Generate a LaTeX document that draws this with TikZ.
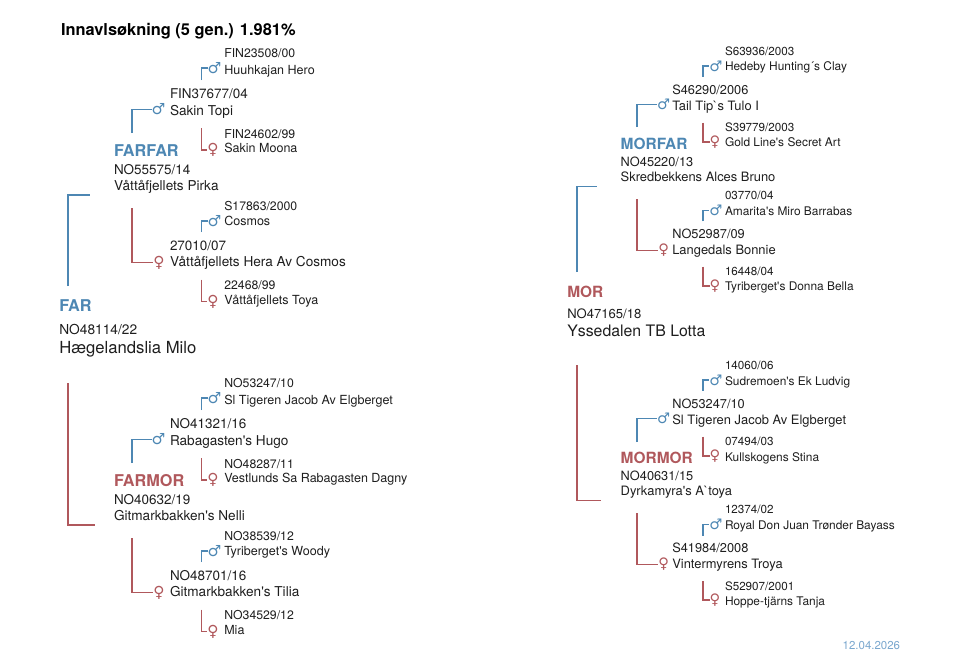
\documentclass[tikz,border=0pt]{standalone}
\usepackage{fontspec}
\newfontfamily\heros{TeX Gyre Heros}
\newfontfamily\dejavu{DejaVu Sans}

\begin{document}
\begin{tikzpicture}[x=0.75pt,y=0.75pt,yscale=-1,xscale=1,
	every node/.style={inner sep=0pt,outer sep=0pt,anchor=base west,color={rgb, 255:red, 30; green, 30; blue, 30 }},
	headline/.style={font=\heros\bfseries\fontsize{12.3}{14}\selectfont,color=black},
	malerole/.style={font=\heros\bfseries\fontsize{12.2}{14}\selectfont,color={rgb, 255:red, 77; green, 135; blue, 179 }},
	femalerole/.style={font=\heros\bfseries\fontsize{12.2}{14}\selectfont,color={rgb, 255:red, 176; green, 88; blue, 92 }},
	id1/.style={font=\heros\fontsize{10.3}{12}\selectfont},
	name1/.style={font=\heros\fontsize{12.5}{14}\selectfont},
	id2/.style={font=\heros\fontsize{10.1}{12}\selectfont},
	name2/.style={font=\heros\fontsize{10.2}{12}\selectfont},
	id3/.style={font=\heros\fontsize{9.2}{11}\selectfont},
	name3/.style={font=\heros\fontsize{9.4}{11}\selectfont},
	malesym/.style={anchor=center,font=\dejavu\fontsize{11.5}{12}\selectfont,color={rgb, 255:red, 77; green, 135; blue, 179 }},
	femalesym/.style={anchor=center,font=\dejavu\fontsize{11.5}{12}\selectfont,color={rgb, 255:red, 176; green, 88; blue, 92 }},
	blueline/.style={line width=1pt,color={rgb, 255:red, 77; green, 135; blue, 179 }},
	redline/.style={line width=1pt,color={rgb, 255:red, 176; green, 88; blue, 92 }},
	datestamp/.style={font=\heros\fontsize{8.6}{10}\selectfont,color={rgb, 255:red, 122; green, 167; blue, 206 }}]
	\useasboundingbox (0,0) rectangle (960,665);
	
	\node [headline] (title) at (61,35) {Innavlsøkning (5 gen.) 1.981\%};
	
	% far side
	\node [malerole] (far) at (59.3,311.7) {FAR};
	\node [id1] (farid) at (59.3,334) {NO48114/22};
	\node [name1] (farname) at (59.3,353) {Hægelandslia Milo};
	
	\node [malerole] (farfar) at (114,156.7) {FARFAR};
	\node [id2] (farfarid) at (114,174) {NO55575/14};
	\node [name2] (farfarname) at (114,190) {Våttåfjellets Pirka};
	
	\node [id2] (ff1id) at (170,98) {FIN37677/04};
	\node [name2] (ff1) at (170,115) {Sakin Topi};
	\node [malesym] (ff1sym) at (158.5,109.5) {♂};
	\node [id3] (ff11id) at (224.3,57.7) {FIN23508/00};
	\node [name3] (ff11) at (224.3,74) {Huuhkajan Hero};
	\node [malesym] (ff11sym) at (214.5,68) {♂};
	\node [id3] (ff12id) at (224.3,138) {FIN24602/99};
	\node [name3] (ff12) at (224.3,152.7) {Sakin Moona};
	\node [femalesym] (ff12sym) at (213,150) {♀};
	
	\node [id2] (ff2id) at (170,250) {27010/07};
	\node [name2] (ff2) at (170,266) {Våttåfjellets Hera Av Cosmos};
	\node [femalesym] (ff2sym) at (159,262.5) {♀};
	\node [id3] (ff21id) at (224.3,210) {S17863/2000};
	\node [name3] (ff21) at (224.3,225.7) {Cosmos};
	\node [malesym] (ff21sym) at (214.5,221) {♂};
	\node [id3] (ff22id) at (224.3,289) {22468/99};
	\node [name3] (ff22) at (224.3,304) {Våttåfjellets Toya};
	\node [femalesym] (ff22sym) at (213,301.5) {♀};
	
	\node [femalerole] (farmor) at (114,486.7) {FARMOR};
	\node [id2] (farmorid) at (114,504) {NO40632/19};
	\node [name2] (farmorname) at (114,520) {Gitmarkbakken's Nelli};
	
	\node [id2] (fm1id) at (170,428) {NO41321/16};
	\node [name2] (fm1) at (170,445) {Rabagasten's Hugo};
	\node [malesym] (fm1sym) at (158.5,439.5) {♂};
	\node [id3] (fm11id) at (224.3,387.7) {NO53247/10};
	\node [name3] (fm11) at (224.3,404) {Sl Tigeren Jacob Av Elgberget};
	\node [malesym] (fm11sym) at (214.5,398) {♂};
	\node [id3] (fm12id) at (224.3,468) {NO48287/11};
	\node [name3] (fm12) at (224.3,482.7) {Vestlunds Sa Rabagasten Dagny};
	\node [femalesym] (fm12sym) at (213,480) {♀};
	
	\node [id2] (fm2id) at (170,580) {NO48701/16};
	\node [name2] (fm2) at (170,596) {Gitmarkbakken's Tilia};
	\node [femalesym] (fm2sym) at (159,592.5) {♀};
	\node [id3] (fm21id) at (224.3,540) {NO38539/12};
	\node [name3] (fm21) at (224.3,555.7) {Tyriberget's Woody};
	\node [malesym] (fm21sym) at (214.5,551) {♂};
	\node [id3] (fm22id) at (224.3,619) {NO34529/12};
	\node [name3] (fm22) at (224.3,634) {Mia};
	\node [femalesym] (fm22sym) at (213,631.5) {♀};
	
	\draw [blueline] (far.base west) ++(8.7,-25.7) |- ([xshift=-18pt,yshift=3.75pt]farfarname.base west);
	\draw [redline] (farname.base west) ++(8.7,30) |- ([xshift=-14.25pt,yshift=3.75pt]farmorname.base west);
	\draw [blueline] (farfar.base west) ++(18,-23.7) |- (ff1sym.west);
	\draw [redline] (farfarname.base west) ++(18,18) |- (ff2sym.west);
	\draw [blueline] (ff1id.base west) ++(31.7,-18) |- (ff11sym.west);
	\draw [redline] (ff1.base west) ++(31.7,13) |- (ff12sym.west);
	\draw [blueline] (ff2id.base west) ++(31.7,-18) |- (ff21sym.west);
	\draw [redline] (ff2.base west) ++(31.7,13.5) |- (ff22sym.west);
	\draw [blueline] (farmor.base west) ++(18,-23.7) |- (fm1sym.west);
	\draw [redline] (farmorname.base west) ++(18,18) |- (fm2sym.west);
	\draw [blueline] (fm1id.base west) ++(31.7,-18) |- (fm11sym.west);
	\draw [redline] (fm1.base west) ++(31.7,13) |- (fm12sym.west);
	\draw [blueline] (fm2id.base west) ++(31.7,-18) |- (fm21sym.west);
	\draw [redline] (fm2.base west) ++(31.7,13.5) |- (fm22sym.west);
	
	% mor side
	\begin{scope}[every node/.append style={scale=0.95}]
	\node [femalerole] (mor) at (567.3,297.3) {MOR};
	\node [id1] (morid) at (567.3,318.3) {NO47165/18};
	\node [name1] (morname) at (567.3,336.7) {Yssedalen TB Lotta};
	
	\node [malerole] (morfar) at (620.7,149.3) {MORFAR};
	\node [id2] (morfarid) at (620.7,166) {NO45220/13};
	\node [name2] (morfarname) at (620.7,181.7) {Skredbekkens Alces Bruno};
	
	\node [id2] (mf1id) at (672.3,94.3) {S46290/2006};
	\node [name2] (mf1) at (672.3,110) {Tail Tip`s Tulo I};
	\node [malesym] (mf1sym) at (663.7,104.7) {♂};
	\node [id3] (mf11id) at (725,55) {S63936/2003};
	\node [name3] (mf11) at (725,70.7) {Hedeby Hunting´s Clay};
	\node [malesym] (mf11sym) at (716,66) {♂};
	\node [id3] (mf12id) at (725,131.7) {S39779/2003};
	\node [name3] (mf12) at (725,146.7) {Gold Line's Secret Art};
	\node [femalesym] (mf12sym) at (715,142) {♀};
	
	\node [id2] (mf2id) at (672.3,238.3) {NO52987/09};
	\node [name2] (mf2) at (672.3,254) {Langedals Bonnie};
	\node [femalesym] (mf2sym) at (663.7,250.3) {♀};
	\node [id3] (mf21id) at (725,199.3) {03770/04};
	\node [name3] (mf21) at (725,215) {Amarita's Miro Barrabas};
	\node [malesym] (mf21sym) at (716,210.7) {♂};
	\node [id3] (mf22id) at (725,275) {16448/04};
	\node [name3] (mf22) at (725,290.7) {Tyriberget's Donna Bella};
	\node [femalesym] (mf22sym) at (715,286) {♀};
	
	\node [femalerole] (mormor) at (620.7,463.3) {MORMOR};
	\node [id2] (mormorid) at (620.7,480.3) {NO40631/15};
	\node [name2] (mormorname) at (620.7,495.7) {Dyrkamyra's A`toya};
	
	\node [id2] (mm1id) at (672.3,408.3) {NO53247/10};
	\node [name2] (mm1) at (672.3,424) {Sl Tigeren Jacob Av Elgberget};
	\node [malesym] (mm1sym) at (663.7,418.7) {♂};
	\node [id3] (mm11id) at (725,369.3) {14060/06};
	\node [name3] (mm11) at (725,385) {Sudremoen's Ek Ludvig};
	\node [malesym] (mm11sym) at (716,380) {♂};
	\node [id3] (mm12id) at (725,445.7) {07494/03};
	\node [name3] (mm12) at (725,461) {Kullskogens Stina};
	\node [femalesym] (mm12sym) at (715,456) {♀};
	
	\node [id2] (mm2id) at (672.3,552.5) {S41984/2008};
	\node [name2] (mm2) at (672.3,568.3) {Vintermyrens Troya};
	\node [femalesym] (mm2sym) at (663.7,564.3) {♀};
	\node [id3] (mm21id) at (725,513.3) {12374/02};
	\node [name3] (mm21) at (725,529.3) {Royal Don Juan Trønder Bayass};
	\node [malesym] (mm21sym) at (716,524.7) {♂};
	\node [id3] (mm22id) at (725,590) {S52907/2001};
	\node [name3] (mm22) at (725,605) {Hoppe-tjärns Tanja};
	\node [femalesym] (mm22sym) at (715,600) {♀};
	\end{scope}
	
	\draw [blueline] (mor.base west) ++(9.7,-25.3) |- ([xshift=-17.8pt,yshift=3.5pt]morfarname.base west);
	\draw [redline] (morname.base west) ++(9.7,28.3) |- ([xshift=-14.8pt,yshift=3.5pt]mormorname.base west);
	\draw [blueline] (morfar.base west) ++(16.3,-22.3) |- (mf1sym.west);
	\draw [redline] (morfarname.base west) ++(16.3,17.3) |- (mf2sym.west);
	\draw [blueline] (mf1id.base west) ++(30.7,-17.6) |- (mf11sym.west);
	\draw [redline] (mf1.base west) ++(30.7,12.7) |- (mf12sym.west);
	\draw [blueline] (mf2id.base west) ++(30.7,-17) |- (mf21sym.west);
	\draw [redline] (mf2.base west) ++(30.7,12.7) |- (mf22sym.west);
	\draw [blueline] (mormor.base west) ++(16.3,-21.3) |- (mm1sym.west);
	\draw [redline] (mormorname.base west) ++(16.3,17.3) |- (mm2sym.west);
	\draw [blueline] (mm1id.base west) ++(30.7,-17.6) |- (mm11sym.west);
	\draw [redline] (mm1.base west) ++(30.7,12.7) |- (mm12sym.west);
	\draw [blueline] (mm2id.base west) ++(30.7,-17) |- (mm21sym.west);
	\draw [redline] (mm2.base west) ++(30.7,12.7) |- (mm22sym.west);
	
	\node [datestamp] (date) at (842.7,649) {12.04.2026};
\end{tikzpicture}
\end{document}
